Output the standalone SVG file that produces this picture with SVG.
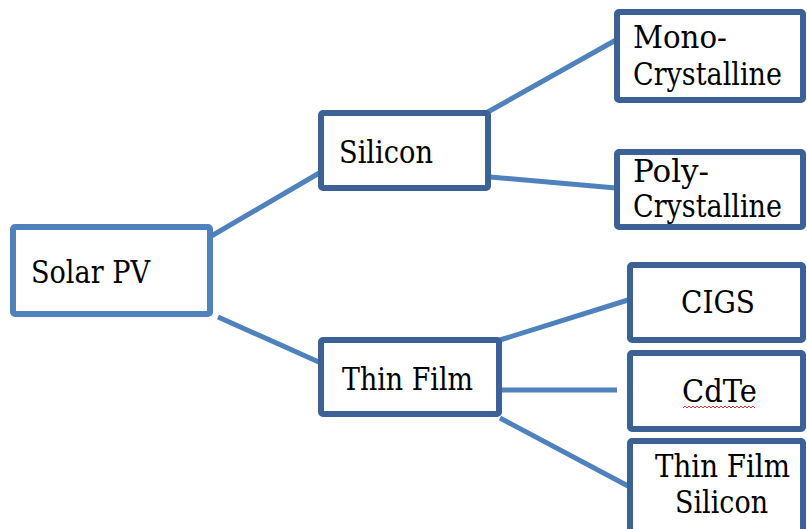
<svg xmlns="http://www.w3.org/2000/svg" width="807" height="529" viewBox="0 0 807 529">
<style>
.box{fill:#fff;stroke:#3B6196;stroke-width:6;stroke-linejoin:round}
.root{fill:#fff;stroke:#4F81BD;stroke-width:6;stroke-linejoin:round}
.t{font-family:'DejaVu Serif','Liberation Serif',serif;font-size:31px;fill:#000}
#connectors line{stroke:#4F81BD;stroke-width:5;stroke-linecap:butt}
</style>
<rect width="807" height="529" fill="#fff"/>
<g id="connectors">
<line x1="208" y1="238" x2="321" y2="172"/>
<line x1="218" y1="317" x2="321" y2="363"/>
<line x1="486" y1="113" x2="616" y2="40"/>
<line x1="490" y1="177" x2="616" y2="188"/>
<line x1="500" y1="340" x2="628" y2="300"/>
<line x1="500" y1="390" x2="617" y2="390"/>
<line x1="500" y1="418" x2="628" y2="486"/>
</g>
<g id="solar-pv">
<rect class="root" x="13" y="227" width="197" height="87" rx="2"/>
<text class="t" x="31" y="283" textLength="119" lengthAdjust="spacingAndGlyphs">Solar PV</text>
</g>
<g id="silicon">
<rect class="box" x="321" y="113" width="167" height="75" rx="2"/>
<text class="t" x="339" y="163" textLength="94" lengthAdjust="spacingAndGlyphs">Silicon</text>
</g>
<g id="thin-film">
<rect class="box" x="321" y="340" width="178" height="74" rx="2"/>
<text class="t" x="342" y="390" textLength="131" lengthAdjust="spacingAndGlyphs">Thin Film</text>
</g>
<g id="mono">
<rect class="box" x="617" y="12" width="186" height="88" rx="2"/>
<text class="t" x="633" y="48" textLength="94" lengthAdjust="spacingAndGlyphs">Mono-</text>
<text class="t" x="633" y="85" textLength="149" lengthAdjust="spacingAndGlyphs">Crystalline</text>
</g>
<g id="poly">
<rect class="box" x="617" y="152" width="186" height="75" rx="2"/>
<text class="t" x="633" y="182" textLength="76" lengthAdjust="spacingAndGlyphs">Poly-</text>
<text class="t" x="633" y="217" textLength="149" lengthAdjust="spacingAndGlyphs">Crystalline</text>
</g>
<g id="cigs">
<rect class="box" x="630" y="265" width="173" height="75" rx="2"/>
<text class="t" x="681" y="313" textLength="74" lengthAdjust="spacingAndGlyphs">CIGS</text>
</g>
<g id="cdte">
<rect class="box" x="630" y="353" width="173" height="76" rx="2"/>
<text class="t" x="682" y="402" textLength="75" lengthAdjust="spacingAndGlyphs">CdTe</text>
<path d="M683 408 l2 -2 l2 2 l2 -2 l2 2 l2 -2 l2 2 l2 -2 l2 2 l2 -2 l2 2 l2 -2 l2 2 l2 -2 l2 2 l2 -2 l2 2 l2 -2 l2 2 l2 -2 l2 2 l2 -2 l2 2 l2 -2 l2 2 l2 -2 l2 2 l2 -2 l2 2 l2 -2 l2 2 l2 -2 l2 2 l2 -2 l2 2 l2 -2 l2 2" fill="none" stroke="#E03030" stroke-width="1"/>
</g>
<g id="thin-film-silicon">
<rect class="box" x="630" y="441" width="173" height="100" rx="2"/>
<text class="t" x="655" y="477" textLength="135" lengthAdjust="spacingAndGlyphs">Thin Film</text>
<text class="t" x="675" y="513" textLength="93" lengthAdjust="spacingAndGlyphs">Silicon</text>
</g>
</svg>
